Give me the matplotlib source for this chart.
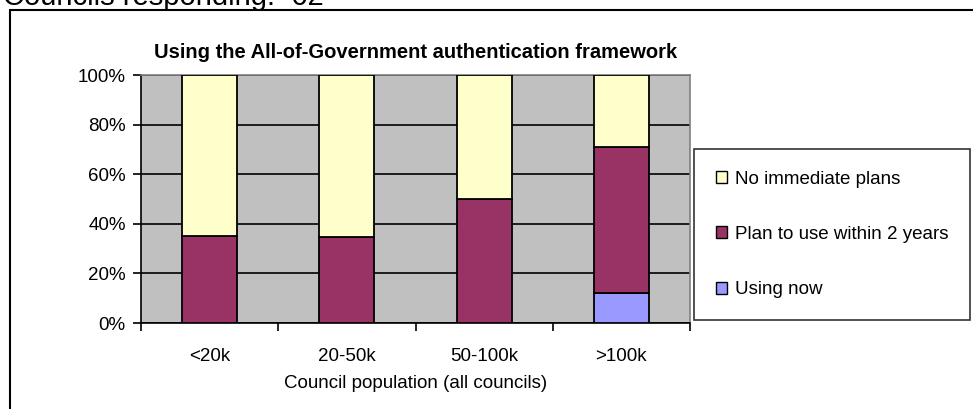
import numpy as np
import matplotlib
matplotlib.use("Agg")
import matplotlib.pyplot as plt
from matplotlib.patches import Rectangle, Patch

# ============ 数据 ============
categories = ["<20k", "20-50k", "50-100k", ">100k"]
using_now = [0, 0, 0, 12]
plan_2_years = [35, 34.5, 50, 59]
no_plans = [65, 65.5, 50, 29]
y_ticks = [0, 20, 40, 60, 80, 100]

COLOR_USING = "#9999FF"
COLOR_PLAN = "#993366"
COLOR_NONE = "#FFFFCC"
COLOR_BG = "#C0C0C0"
FS = 13.5

plt.rcParams["font.family"] = ["Liberation Sans", "DejaVu Sans"]

fig = plt.figure(figsize=(9.73, 4.09), dpi=100)
ax = fig.add_axes([141 / 973, 1 - 323 / 409, 549 / 973, 248 / 409])
ax.set_facecolor(COLOR_BG)

x = np.arange(len(categories))
w = 0.4
ax.bar(x, using_now, w, color=COLOR_USING, edgecolor="black", linewidth=1.3, zorder=3)
ax.bar(x, plan_2_years, w, bottom=using_now, color=COLOR_PLAN, edgecolor="black",
       linewidth=1.3, zorder=3)
bottom2 = np.array(using_now) + np.array(plan_2_years)
ax.bar(x, no_plans, w, bottom=bottom2, color=COLOR_NONE, edgecolor="black",
       linewidth=1.3, zorder=3)

ax.set_xlim(-0.5, len(categories) - 0.5)
ax.set_ylim(0, 100)
ax.set_yticks(y_ticks)
ax.set_yticklabels([f"{v}%" for v in y_ticks], fontsize=FS)
ax.yaxis.grid(True, color="black", linewidth=1.2, zorder=1)
ax.set_axisbelow(True)

# x轴刻度在分类边界处，标签居中
ax.set_xticks(np.arange(-0.5, len(categories), 1.0))
ax.set_xticklabels([])
ax.set_xticks(x, minor=True)
ax.set_xticklabels(categories, minor=True, fontsize=FS)
ax.tick_params(axis="x", which="minor", length=0, pad=18)
ax.tick_params(axis="x", which="major", length=6, width=1.2, direction="out")
ax.tick_params(axis="y", length=6, width=1.2, direction="out", pad=5)
ax.set_xlabel("Council population (all councils)", fontsize=FS, labelpad=7)

for s in ["left", "bottom"]:
    ax.spines[s].set_color("black")
    ax.spines[s].set_linewidth(1.2)
for s in ["top", "right"]:
    ax.spines[s].set_color("#808080")
    ax.spines[s].set_linewidth(1.2)

ax.set_title("Using the All-of-Government authentication framework",
             fontsize=14.5, fontweight="bold", pad=12, x=0.5)

# 图例
handles = [
    Patch(facecolor=COLOR_NONE, edgecolor="black", label="No immediate plans"),
    Patch(facecolor=COLOR_PLAN, edgecolor="black", label="Plan to use within 2 years"),
    Patch(facecolor=COLOR_USING, edgecolor="black", label="Using now"),
]
leg = fig.legend(handles=handles, loc="upper left",
                 bbox_to_anchor=(694 / 973, 1 - 149 / 409),
                 fontsize=FS, frameon=True, fancybox=False, edgecolor="black",
                 handlelength=0.6, handleheight=0.6, handletextpad=0.45,
                 labelspacing=2.05, borderpad=1.15, borderaxespad=0)
leg.get_frame().set_linewidth(1.2)

# 外框
fig.patches.append(Rectangle((10 / 973, -0.1), 1.2, 1.1 - 10 / 409,
                             transform=fig.transFigure, fill=False,
                             edgecolor="black", linewidth=1.5))

# 顶部被裁切的文字
fig.text(3 / 973, 1 - 5 / 409, "Councils responding:  62", fontsize=21,
         ha="left", va="baseline")

fig.savefig("out.png", dpi=100)
